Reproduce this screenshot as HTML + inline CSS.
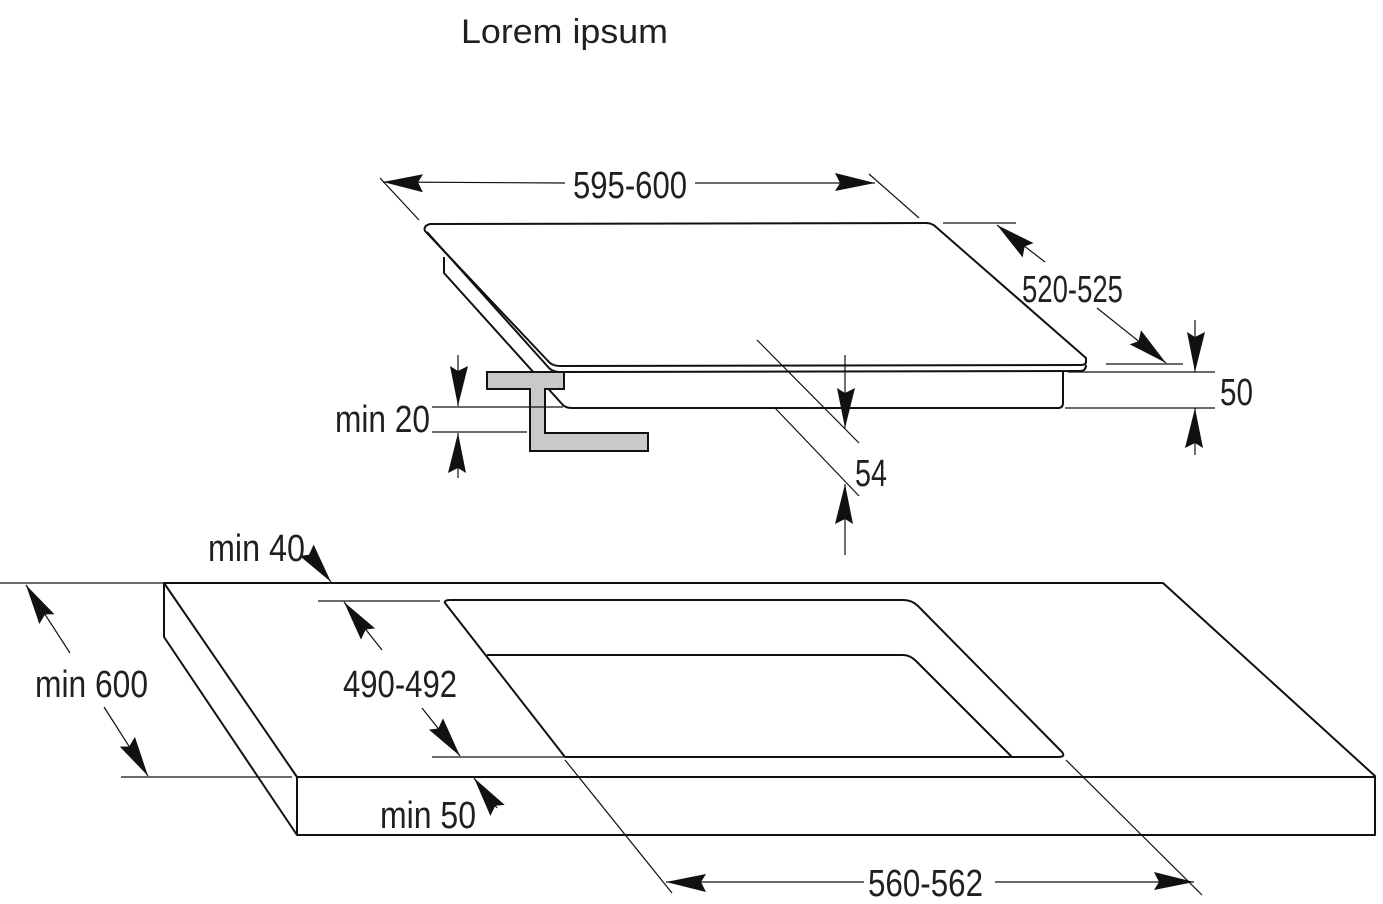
<!DOCTYPE html>
<html><head><meta charset="utf-8"><style>
html,body{margin:0;padding:0;background:#fff;}
svg{display:block}
.d{font-family:"Liberation Sans",sans-serif;font-size:38px;fill:#231f20}
</style></head><body>
<svg width="1383" height="904" viewBox="0 0 1383 904" xmlns="http://www.w3.org/2000/svg">
<defs>
<marker id="a" markerUnits="userSpaceOnUse" markerWidth="60" markerHeight="24" refX="0" refY="0" viewBox="-50 -12 60 24" orient="auto" overflow="visible">
<path d="M0,0 L-40,-10 L-35,0 L-40,8 Z" fill="#111"/>
</marker>
</defs>
<text x="461" y="43" font-family="Liberation Sans, sans-serif" font-size="34" fill="#231f20" textLength="207" lengthAdjust="spacingAndGlyphs">Lorem ipsum</text>

<g fill="none" stroke="#111" stroke-width="2" stroke-linejoin="round">
<path d="M430,224 L926,223 Q932,223 936,227 L1086,358 L1086,362 Q1086,365 1080,365 L560,366 Q552,366 548,361 L425,231 Q423,226 430,224 Z"/>
<path d="M427,232 L549,368 Q553,372 560,372 L1080,371 Q1086,371 1086,365"/>
<path d="M444,257 L444,273 L562,404 Q565,408 572,408 L1058,408 Q1063,408 1063,403 L1063,372"/>
<path d="M164,583 L1163,583 L1375,776 L1375,835 L297,835 L164,637 Z"/>
<path d="M164,583 L297,777 L297,835"/>
<path d="M297,777 L1375,777"/>
<path d="M565,757 L445,603 Q444,600 450,600 L903,600 Q912,600 918,606 L1062,752 Q1066,757 1058,757 L565,757"/>
<path d="M487,655 L903,655 Q910,655 916,661 L1012,757"/>
</g>
<path d="M487,372 L564,372 L564,389 L545,389 L545,433 L648,433 L648,451 L530,451 L530,389 L487,389 Z" fill="#c9c9c9" stroke="#111" stroke-width="2"/>

<g stroke="#111" stroke-width="1.2" fill="none">
<line x1="380" y1="178" x2="419" y2="220"/>
<line x1="869" y1="174" x2="919" y2="218"/>
<line x1="565" y1="183" x2="383" y2="182" marker-end="url(#a)"/>
<line x1="695" y1="183" x2="875" y2="183" marker-end="url(#a)"/>
<line x1="943" y1="223" x2="1016" y2="223"/>
<line x1="1045" y1="262" x2="997" y2="225" marker-end="url(#a)"/>
<line x1="1097" y1="308" x2="1166" y2="363" marker-end="url(#a)"/>
<line x1="1106" y1="364" x2="1183" y2="364"/>
<line x1="1068" y1="372" x2="1215" y2="372"/>
<line x1="1065" y1="408" x2="1215" y2="408"/>
<line x1="1195" y1="320" x2="1195" y2="372" marker-end="url(#a)"/>
<line x1="1195" y1="455" x2="1195" y2="408" marker-end="url(#a)"/>
<line x1="757" y1="340" x2="859" y2="443"/>
<line x1="775" y1="408" x2="859" y2="496"/>
<line x1="845" y1="355" x2="845" y2="428" marker-end="url(#a)"/>
<line x1="845" y1="555" x2="845" y2="484" marker-end="url(#a)"/>
<line x1="432" y1="407" x2="563" y2="407"/>
<line x1="432" y1="432" x2="527" y2="432"/>
<line x1="458" y1="355" x2="458" y2="406" marker-end="url(#a)"/>
<line x1="458" y1="478" x2="458" y2="433" marker-end="url(#a)"/>
<line x1="0" y1="583" x2="164" y2="583"/>
<line x1="121" y1="777" x2="292" y2="777"/>
<line x1="70" y1="653" x2="26" y2="585" marker-end="url(#a)"/>
<line x1="104" y1="707" x2="148" y2="776" marker-end="url(#a)"/>
<line x1="310" y1="556" x2="331" y2="582" marker-end="url(#a)"/>
<line x1="318" y1="601" x2="440" y2="601"/>
<line x1="432" y1="757" x2="565" y2="757"/>
<line x1="382" y1="650" x2="344" y2="602" marker-end="url(#a)"/>
<line x1="422" y1="708" x2="460" y2="756" marker-end="url(#a)"/>
<line x1="497" y1="808" x2="474" y2="778" marker-end="url(#a)"/>
<line x1="565" y1="760" x2="672" y2="893"/>
<line x1="1066" y1="760" x2="1202" y2="895"/>
<line x1="864" y1="882" x2="666" y2="882" marker-end="url(#a)"/>
<line x1="995" y1="882" x2="1194" y2="882" marker-end="url(#a)"/>
</g>

<g class="d">
<text x="573" y="198" textLength="114" lengthAdjust="spacingAndGlyphs">595-600</text>
<text x="1022" y="302" textLength="101" lengthAdjust="spacingAndGlyphs">520-525</text>
<text x="1220" y="405" textLength="33" lengthAdjust="spacingAndGlyphs">50</text>
<text x="855" y="486" textLength="32" lengthAdjust="spacingAndGlyphs">54</text>
<text x="335" y="432" textLength="95" lengthAdjust="spacingAndGlyphs">min 20</text>
<text x="208" y="561" textLength="97" lengthAdjust="spacingAndGlyphs">min 40</text>
<text x="35" y="697" textLength="113" lengthAdjust="spacingAndGlyphs">min 600</text>
<text x="343" y="697" textLength="114" lengthAdjust="spacingAndGlyphs">490-492</text>
<text x="380" y="828" textLength="96" lengthAdjust="spacingAndGlyphs">min 50</text>
<text x="868" y="896" textLength="115" lengthAdjust="spacingAndGlyphs">560-562</text>
</g>
</svg>
</body></html>
